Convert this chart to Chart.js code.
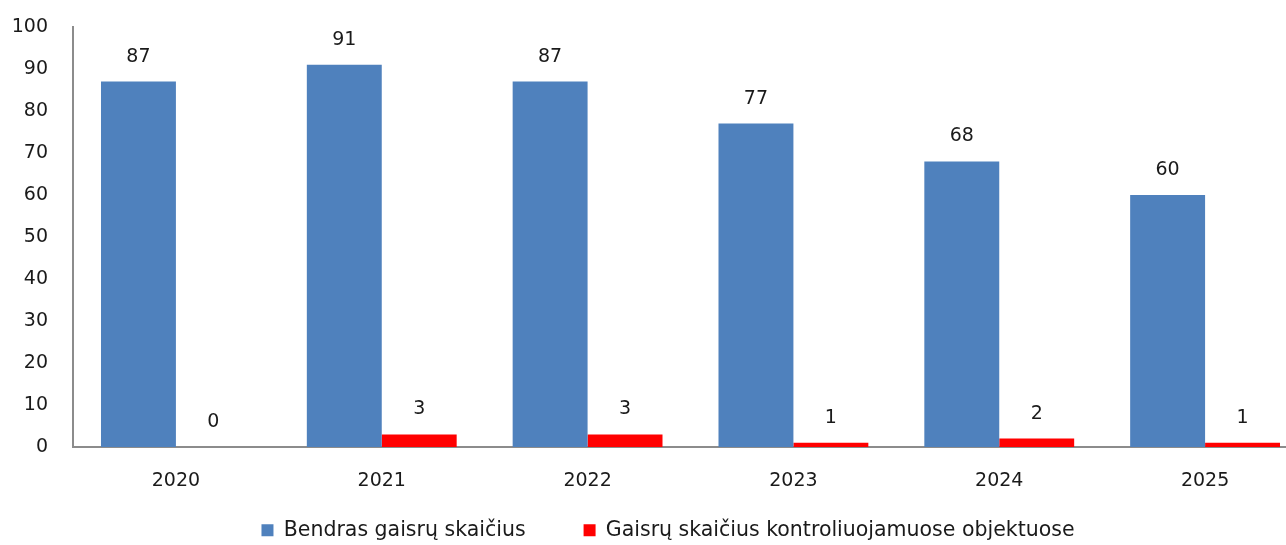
<!DOCTYPE html>
<html>
<head>
<meta charset="utf-8">
<script src="https://cdn.jsdelivr.net/npm/chart.js@4/dist/chart.umd.min.js"></script>
<style>
  html, body { margin: 0; padding: 0; background: #fff; overflow: hidden; }
</style>
</head>
<body>
<!-- the original picture is cut off on the right, so the canvas is a bit wider than the window -->
<canvas id="chart" width="1308" height="545"></canvas>
<script>
const years = ['2020', '2021', '2022', '2023', '2024', '2025'];
const totalFires = [87, 91, 87, 77, 68, 60];
const controlledFires = [0, 3, 3, 1, 2, 1];
const yTicks = [0, 10, 20, 30, 40, 50, 60, 70, 80, 90, 100];

const fontFamily = "'DejaVu Sans', sans-serif";
const textColor = '#1a1a1a';
const axisColor = '#8c8c8c';

// draw the value above every bar
const valueLabels = {
    id: 'valueLabels',
    afterDatasetsDraw(chart) {
        const ctx = chart.ctx;
        ctx.save();
        ctx.font = `19px ${fontFamily}`;
        ctx.fillStyle = textColor;
        ctx.textAlign = 'center';
        ctx.textBaseline = 'middle';
        chart.data.datasets.forEach((dataset, i) => {
            chart.getDatasetMeta(i).data.forEach((bar, j) => {
                ctx.fillText(String(dataset.data[j]), bar.x, bar.y - 25);
            });
        });
        ctx.restore();
    }
};

// x axis is squeezed so the plot reaches down to the legend; give its labels room again
const layoutTweaks = {
    id: 'layoutTweaks',
    afterLayout(chart) {
        const x = chart.scales.x;
        x.bottom = chart.height;
        x.height = x.bottom - x.top;
        chart.legend.left += 14;
        chart.legend.right += 14;
    }
};

new Chart(document.getElementById('chart'), {
    type: 'bar',
    data: {
        labels: years,
        datasets: [
            {
                label: 'Bendras gaisrų skaičius',
                data: totalFires,
                backgroundColor: '#4F81BD'
            },
            {
                label: 'Gaisrų skaičius kontroliuojamuose objektuose',
                data: controlledFires,
                backgroundColor: '#FF0000'
            }
        ]
    },
    options: {
        responsive: false,
        animation: false,
        layout: { padding: { top: 27, right: 0, left: 0, bottom: 0 } },
        datasets: {
            bar: { barPercentage: 1, categoryPercentage: 0.728 }
        },
        scales: {
            x: {
                grid: { display: false, drawTicks: false },
                border: { color: axisColor, width: 2 },
                ticks: { color: textColor, font: { family: fontFamily, size: 19 }, padding: 23 },
                afterFit(scale) { scale.height = 15; }
            },
            y: {
                min: 0,
                max: 100,
                afterBuildTicks(axis) {
                    axis.ticks = yTicks.map(v => ({ value: v }));
                },
                grid: { display: false, drawTicks: false },
                border: { color: axisColor, width: 2 },
                ticks: { color: textColor, font: { family: fontFamily, size: 19 }, padding: 25 },
                afterFit(scale) {
                    scale.width = 73;
                    // tick padding should not push the plot top down
                    scale.paddingTop = 0;
                    scale.paddingBottom = 0;
                }
            }
        },
        plugins: {
            legend: {
                position: 'bottom',
                maxHeight: 83,
                labels: {
                    color: textColor,
                    font: { family: fontFamily, size: 20.5 },
                    boxWidth: 12,
                    boxHeight: 12,
                    padding: 58
                }
            },
            tooltip: { enabled: false }
        }
    },
    plugins: [valueLabels, layoutTweaks]
});
</script>
</body>
</html>
